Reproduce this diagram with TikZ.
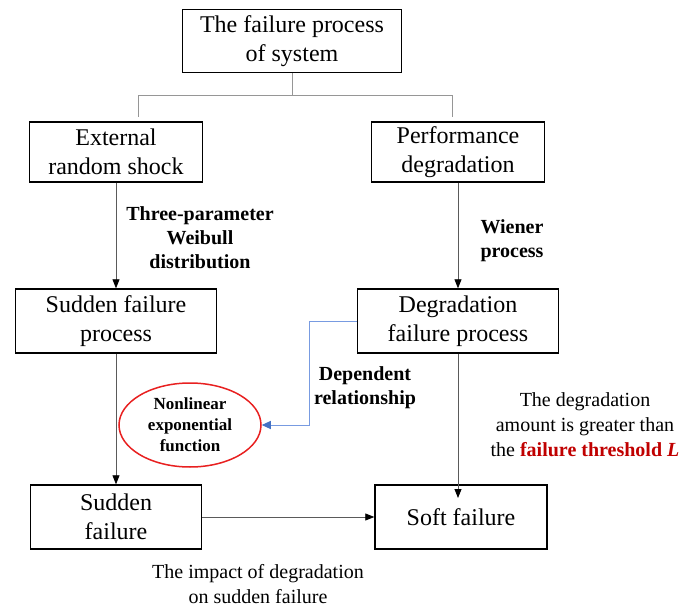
\documentclass[tikz,border=0pt]{standalone}
\usepackage{fontspec}
\setmainfont{Liberation Serif}
\usetikzlibrary{positioning,arrows.meta,shapes.geometric}
\definecolor{linegray}{RGB}{90,90,90}
\definecolor{treegray}{RGB}{150,150,150}
\definecolor{depblue}{RGB}{120,155,225}
\definecolor{tipblue}{RGB}{68,114,196}
\definecolor{ellred}{RGB}{232,32,32}
\definecolor{darkred}{RGB}{192,0,0}
\tikzset{
    box/.style={draw, line width=1.4pt, align=center, inner sep=0pt, font=\fontsize{24}{29}\selectfont},
    flow/.style={draw=linegray, line width=0.8pt, -{Triangle[length=9pt,width=7pt,black]}},
    lbl/.style={align=center, font=\fontsize{20}{24}\selectfont\bfseries},
    note/.style={align=center, font=\fontsize{20}{25}\selectfont},
}

\begin{document}
\begin{tikzpicture}[x=1pt, y=-1pt]
    \useasboundingbox (0,0) rectangle (694,610);

    % Boxes
    \node[box, minimum width=219pt, minimum height=63pt] (sys) at (292,41) {The failure process\\of system};
    \node[box, minimum width=173pt, minimum height=60pt] (shock) at (116,152) {External\\random shock};
    \node[box, minimum width=173pt, minimum height=60pt] (perf) at (458,152) {Performance\\degradation};
    \node[box, minimum width=201pt, minimum height=64pt] (sfp) at (116,321) {Sudden failure\\process};
    \node[box, minimum width=201pt, minimum height=64pt] (dfp) at (458,321) {Degradation\\failure process};
    \node[box, minimum width=171pt, minimum height=64pt] (sudden) at (116,517) {Sudden\\failure};
    \node[box, minimum width=172pt, minimum height=64pt] (soft) at (461,517) {Soft failure};

    % Tree under the top box
    \coordinate (tl) at (138,117);
    \coordinate (tr) at (452,117);
    \draw[treegray, line width=0.9pt] (sys.south) -- ++(0,22) -| (tl);
    \draw[treegray, line width=0.9pt] (sys.south) -- ++(0,22) -| (tr);

    % Flow arrows
    \draw[flow] (shock.south) -- (sfp.north);
    \draw[flow] (perf.south) -- (dfp.north);
    \draw[flow] (sfp.south) -- (sudden.north);
    \coordinate (softin) at (458,498);
    \draw[flow] (dfp.south) -- (softin);
    \draw[flow] (sudden.east) -- (soft.west);

    % Dependence
    \node[draw=ellred, line width=1.5pt, ellipse, minimum width=142pt, minimum height=84pt, inner sep=0pt,
          align=center, font=\fontsize{17}{21}\selectfont\bfseries] (nef) at (190,425) {Nonlinear\\exponential\\function};
    \coordinate (dep) at (309,321);
    \draw[depblue, line width=1pt, -{Triangle[length=9pt,width=8pt,tipblue]}] (dfp.west |- dep) -- (dep) |- (nef.east);

    % Labels
    \node[lbl] (weib) at (200,238) {Three-parameter\\Weibull\\distribution};
    \node[lbl] (wien) at (512,241) {Wiener\\process};
    \node[lbl] (deprel) at (365,388) {Dependent\\relationship};
    \node[note] (thr) at (585,425) {The degradation\\amount is greater than\\the \textcolor{darkred}{\textbf{failure threshold \textit{L}}}};
    \node[note] (imp) at (258,584) {The impact of degradation\\on sudden failure};
\end{tikzpicture}
\end{document}
